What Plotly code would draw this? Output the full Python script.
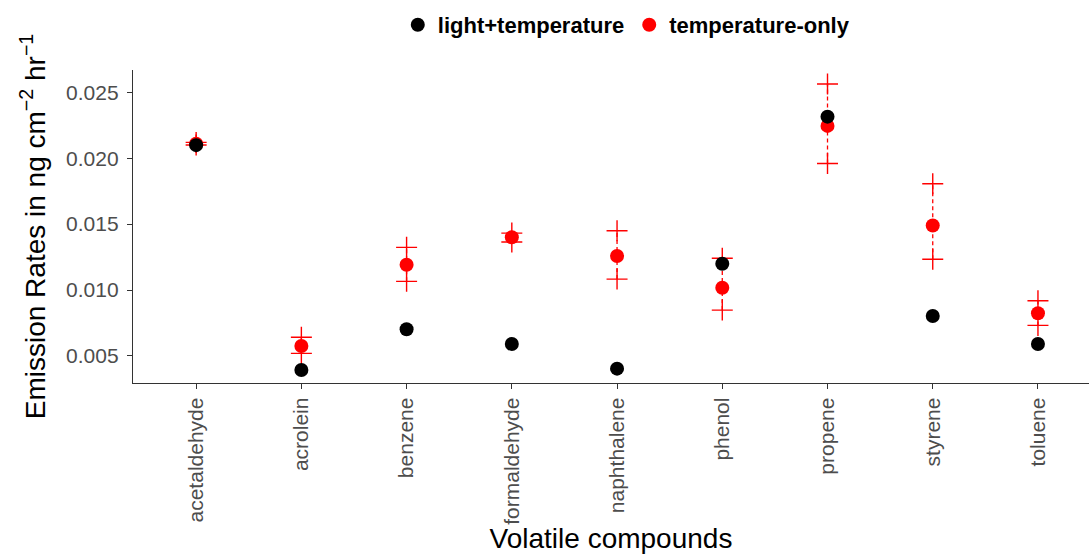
import plotly.graph_objects as go

# Volatile compounds on the x axis
compounds = ["acetaldehyde", "acrolein", "benzene", "formaldehyde", "naphthalene",
             "phenol", "propene", "styrene", "toluene"]

# Emission rates (ng cm^-2 hr^-1)
light_temp = [0.02099, 0.00394, 0.00703, 0.00591, 0.00404, 0.01200, 0.02315, 0.00803, 0.00591]

temp_only = [0.02110, 0.00576, 0.01192, 0.01400, 0.01258, 0.01017, 0.02245, 0.01490, 0.00824]
temp_only_low = [0.02100, 0.00520, 0.01066, 0.01365, 0.01083, 0.00848, 0.01960, 0.01234, 0.00732]
temp_only_high = [0.02120, 0.00642, 0.01324, 0.01432, 0.01450, 0.01241, 0.02563, 0.01806, 0.00919]

y_ticks = [0.005, 0.010, 0.015, 0.020, 0.025]
y_tick_text = ["0.005", "0.010", "0.015", "0.020", "0.025"]

FONT = "Liberation Sans, Arial, sans-serif"
RED = "#FF0000"
AXIS = "#333333"

fig = go.Figure()

# temperature-only means
fig.add_trace(go.Scatter(
    x=compounds, y=temp_only, mode="markers", name="temperature-only",
    marker=dict(symbol="circle", size=14, color=RED),
))

# dashed range lines for temperature-only
seg_x, seg_y = [], []
for c, lo, hi in zip(compounds, temp_only_low, temp_only_high):
    seg_x += [c, c, None]
    seg_y += [lo, hi, None]
fig.add_trace(go.Scatter(
    x=seg_x, y=seg_y, mode="lines", showlegend=False, hoverinfo="skip",
    line=dict(color=RED, width=1.3, dash="4px,3px"),
))

# "+" end markers of the ranges
fig.add_trace(go.Scatter(
    x=compounds + compounds, y=temp_only_low + temp_only_high, mode="markers",
    showlegend=False, hoverinfo="skip",
    marker=dict(symbol="cross-thin-open", size=15, color=RED,
                line=dict(color=RED, width=1.4)),
))

# light+temperature means
fig.add_trace(go.Scatter(
    x=compounds, y=light_temp, mode="markers", name="light+temperature",
    marker=dict(symbol="circle", size=14, color="black"),
))

fig.update_layout(
    width=1089, height=554,
    margin=dict(l=133, r=0, t=70, b=171, autoexpand=False),
    paper_bgcolor="white", plot_bgcolor="white",
    font=dict(family=FONT, color="black"),
    legend=dict(
        orientation="h", x=0.516, y=1.144, xanchor="center", yanchor="middle",
        font=dict(family=FONT, size=22, color="black", weight="bold"),
        traceorder="reversed", itemwidth=30,
        bgcolor="rgba(0,0,0,0)",
    ),
    xaxis=dict(
        type="category", categoryorder="array", categoryarray=compounds,
        range=[-0.6, 8.485],
        showline=True, linecolor=AXIS, linewidth=1.3, mirror=False,
        showgrid=False, zeroline=False,
        ticks="outside", ticklen=5, tickcolor=AXIS, tickwidth=1.1,
        tickangle=-90,
        tickfont=dict(family=FONT, size=21, color="#4D4D4D"),
        title=dict(text="Volatile compounds", font=dict(family=FONT, size=28, color="black"),
                   standoff=11),
        automargin=False,
    ),
    yaxis=dict(
        range=[0.00295, 0.02669],
        tickvals=y_ticks, ticktext=y_tick_text,
        showline=True, linecolor=AXIS, linewidth=1.3,
        showgrid=False, zeroline=False,
        ticks="outside", ticklen=5, tickcolor=AXIS, tickwidth=1.1,
        ticklabelstandoff=4,
        tickfont=dict(family=FONT, size=21, color="#4D4D4D"),
        title=dict(text="Emission Rates in ng cm<sup>\u22122</sup> hr<sup>\u22121</sup>",
                   font=dict(family=FONT, size=28, color="black"), standoff=12),
        automargin=False,
    ),
)

fig.write_html("out.html")
